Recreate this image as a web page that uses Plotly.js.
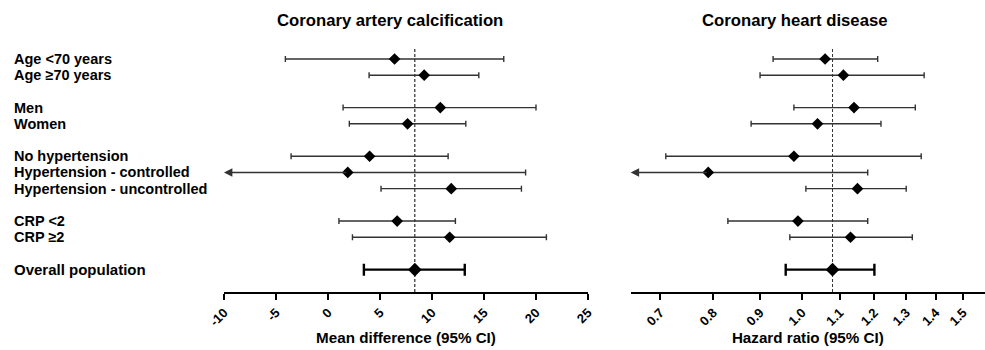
<!DOCTYPE html>
<html>
<head>
<meta charset="utf-8">
<script src="https://cdn.plot.ly/plotly-3.0.1.min.js"></script>
<style>html,body{margin:0;padding:0;background:#fff;}</style>
</head>
<body>
<div id="chart" style="width:985px;height:350px;"></div>
<script>
// ---------- data ----------
const rowLabels = ["Age <70 years", "Age \u226570 years", "Men", "Women", "No hypertension",
  "Hypertension - controlled", "Hypertension - uncontrolled", "CRP <2", "CRP \u22652", "Overall population"];
const rowGroups = [0, 0, 1, 1, 2, 2, 2, 3, 3, 4];

// Coronary artery calcification: mean difference (95% CI); null = beyond axis (arrow)
const cacMean = [6.4, 9.25, 10.8, 7.65, 4.0, 1.9, 11.85, 6.65, 11.7, 8.35];
const cacLow  = [-4.1, 3.95, 1.45, 2.05, -3.55, null, 5.1, 1.05, 2.35, 3.45];
const cacHigh = [16.9, 14.5, 20.0, 13.25, 11.55, 19.0, 18.6, 12.25, 21.0, 13.15];

// Coronary heart disease: hazard ratio (95% CI)
const chdHR   = [1.06, 1.11, 1.14, 1.04, 0.98, 0.79, 1.15, 0.99, 1.13, 1.08];
const chdLow  = [0.93, 0.90, 0.98, 0.88, 0.71, null, 1.01, 0.83, 0.97, 0.96];
const chdHigh = [1.21, 1.36, 1.33, 1.22, 1.35, 1.18, 1.30, 1.18, 1.32, 1.20];

const cacTicks = [-10, -5, 0, 5, 10, 15, 20, 25];
const chdTicks = [0.7, 0.8, 0.9, 1.0, 1.1, 1.2, 1.3, 1.4, 1.5];

const panelTitles = ["Coronary artery calcification", "Coronary heart disease"];
const axisTitles = ["Mean difference (95% CI)", "Hazard ratio (95% CI)"];

// ---------- build ----------
const FONT = "Liberation Sans, Arial, Helvetica, sans-serif";
const LINE = "#333333";

// categories with blank spacers between groups
const cats = [];
const catOf = [];
let sp = 0;
rowLabels.forEach((lab, i) => {
  if (i > 0 && rowGroups[i] !== rowGroups[i - 1]) { sp++; cats.push(" ".repeat(sp)); }
  catOf.push(lab);
  cats.push(lab);
});
const nOverall = rowLabels.length - 1;
const subIdx = rowLabels.map((_, i) => i).filter(i => i !== nOverall);

const xMin1 = -10, xMax1 = 25;
const xMin2 = 0.65, xMax2 = 1.585;

function mkTraces(mean, low, high, xa, ya) {
  const sub = {
    type: "scatter", mode: "markers", xaxis: xa, yaxis: ya,
    x: subIdx.map(i => mean[i]), y: subIdx.map(i => catOf[i]),
    marker: { symbol: "diamond", size: 9, color: "#000" },
    error_x: {
      type: "data", symmetric: false,
      array: subIdx.map(i => high[i] - mean[i]),
      arrayminus: subIdx.map(i => low[i] === null ? 0 : mean[i] - low[i]),
      color: LINE, thickness: 1.4, width: 3
    },
    hoverinfo: "x+y"
  };
  const ov = {
    type: "scatter", mode: "markers", xaxis: xa, yaxis: ya,
    x: [mean[nOverall]], y: [catOf[nOverall]],
    marker: { symbol: "diamond", size: 10.5, color: "#000" },
    error_x: {
      type: "data", symmetric: false,
      array: [high[nOverall] - mean[nOverall]],
      arrayminus: [mean[nOverall] - low[nOverall]],
      color: "#000", thickness: 2.4, width: 6
    },
    hoverinfo: "x+y"
  };
  return [sub, ov];
}

const traces = [
  ...mkTraces(cacMean, cacLow, cacHigh, "x", "y"),
  ...mkTraces(chdHR, chdLow, chdHigh, "x2", "y2")
];

const annotations = [];
// row labels
rowLabels.forEach((lab, i) => {
  annotations.push({
    xref: "paper", yref: "y", x: 12 / 985, y: catOf[i], xanchor: "left", yanchor: "middle",
    text: lab, showarrow: false,
    font: { family: FONT, size: i === nOverall ? 15 : 14.5, color: "#000", weight: "bold" }
  });
});
// arrows for CIs extending beyond the axis
rowLabels.forEach((lab, i) => {
  if (cacLow[i] === null) {
    annotations.push({
      xref: "x", yref: "y", axref: "x", ayref: "y",
      x: xMin1, y: catOf[i], ax: cacMean[i], ay: catOf[i],
      showarrow: true, arrowhead: 2, arrowsize: 1.2, arrowwidth: 1.4, arrowcolor: LINE,
      standoff: 0, startstandoff: 0, text: ""
    });
  }
  if (chdLow[i] === null) {
    annotations.push({
      xref: "x2", yref: "y2", axref: "x2", ayref: "y2",
      x: Math.log10(xMin2), y: catOf[i], ax: Math.log10(chdHR[i]), ay: catOf[i],
      showarrow: true, arrowhead: 2, arrowsize: 1.2, arrowwidth: 1.4, arrowcolor: LINE,
      standoff: 0, startstandoff: 0, text: ""
    });
  }
});
// panel titles
annotations.push({
  xref: "paper", yref: "paper", x: 390 / 985, y: 1, yshift: 28, xanchor: "center", yanchor: "middle",
  text: panelTitles[0], showarrow: false,
  font: { family: FONT, size: 16.7, color: "#000", weight: "bold" }
});
annotations.push({
  xref: "paper", yref: "paper", x: 794.5 / 985, y: 1, yshift: 28, xanchor: "center", yanchor: "middle",
  text: panelTitles[1], showarrow: false,
  font: { family: FONT, size: 16.7, color: "#000", weight: "bold" }
});

const xCommon = {
  showline: true, linecolor: "#000", linewidth: 2,
  ticks: "outside", ticklen: 6, tickwidth: 2, tickcolor: "#000",
  tickangle: -45,
  tickfont: { family: FONT, size: 13, color: "#000", weight: "bold" },
  showgrid: false, zeroline: false, fixedrange: true
};

const yCommon = {
  type: "category", categoryorder: "array", categoryarray: cats,
  range: [14.38, -0.68], autorange: false, visible: false, fixedrange: true,
  showgrid: false, zeroline: false
};

const layout = {
  width: 985, height: 350,
  margin: { l: 0, r: 0, t: 48, b: 58 },
  paper_bgcolor: "#fff", plot_bgcolor: "#fff",
  showlegend: false,
  font: { family: FONT, color: "#000" },
  xaxis: Object.assign({}, xCommon, {
    domain: [224 / 985, 588 / 985], range: [xMin1, xMax1], anchor: "y",
    tickvals: cacTicks, ticktext: cacTicks.map(String),
    title: { text: axisTitles[0], standoff: 4, font: { family: FONT, size: 15.2, color: "#000", weight: "bold" } }
  }),
  xaxis2: Object.assign({}, xCommon, {
    domain: [630.7 / 985, 1], type: "log",
    range: [Math.log10(xMin2), Math.log10(xMax2)], anchor: "y2",
    tickvals: chdTicks, ticktext: chdTicks.map(v => v.toFixed(1)),
    title: { text: axisTitles[1], standoff: 4, font: { family: FONT, size: 15.2, color: "#000", weight: "bold" } }
  }),
  yaxis: Object.assign({}, yCommon, { anchor: "x" }),
  yaxis2: Object.assign({}, yCommon, { anchor: "x2" }),
  shapes: [
    { type: "line", xref: "x", yref: "y domain", x0: cacMean[nOverall], x1: cacMean[nOverall], y0: 0, y1: 1,
      line: { color: "#000", width: 1, dash: "3px,2px" }, layer: "below" },
    { type: "line", xref: "x2", yref: "y2 domain", x0: chdHR[nOverall], x1: chdHR[nOverall], y0: 0, y1: 1,
      line: { color: "#333", width: 1, dash: "3px,2px" }, layer: "below" }
  ],
  annotations: annotations
};

Plotly.newPlot("chart", traces, layout, { displayModeBar: false, staticPlot: true });
</script>
</body>
</html>
